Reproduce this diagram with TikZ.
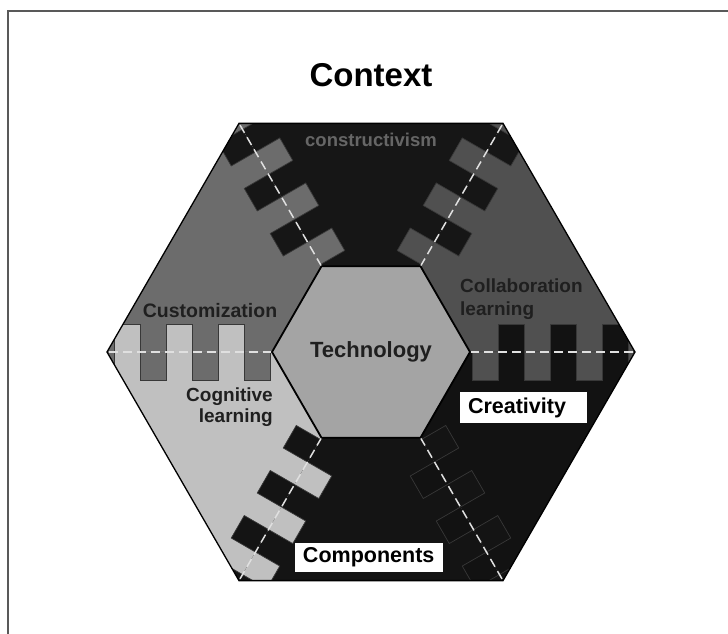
\documentclass[tikz,border=0pt]{standalone}
\usepackage{fontspec}
\setmainfont{Liberation Sans}
\definecolor{topfill}{HTML}{161616}
\definecolor{ulfill}{HTML}{6C6C6C}
\definecolor{urfill}{HTML}{505050}
\definecolor{lrfill}{HTML}{121212}
\definecolor{botfill}{HTML}{141414}
\definecolor{llfill}{HTML}{C0C0C0}
\definecolor{techfill}{HTML}{A4A4A4}
\begin{document}
\begin{tikzpicture}[
        x=1pt, y=1pt,
        font=\bfseries,
        frame/.style={draw=black!65, line width=1.6pt},
        tabedge/.style={draw=black!78, line width=0.7pt},
        seam/.style={draw=white!88!black, line width=1.5pt, dash pattern=on 9pt off 5pt},
        sectortext/.style={text=black!88, inner sep=0pt},
        tagbox/.style={fill=white, text=black, inner xsep=8pt, inner ysep=0pt, align=left}
    ]
    \useasboundingbox (-371,-282) rectangle (357,352);
    % page frame
    \draw[frame] (-363,-282) -- (-363,341) -- (357,341);
    % corners of the two hexagons
    \foreach \k in {0,...,5} {
        \coordinate (o\k) at (\k*60:264);
        \coordinate (i\k) at (\k*60:99);
    }
    % sectors
    \fill[urfill]  (i0) -- (o0) -- (o1) -- (i1) -- cycle;
    \fill[topfill] (i1) -- (o1) -- (o2) -- (i2) -- cycle;
    \fill[ulfill]  (i2) -- (o2) -- (o3) -- (i3) -- cycle;
    \fill[llfill]  (i3) -- (o3) -- (o4) -- (i4) -- cycle;
    \fill[botfill] (i4) -- (o4) -- (o5) -- (i5) -- cycle;
    \fill[lrfill]  (i5) -- (o5) -- (o0) -- (i0) -- cycle;
    % interlocking tabs along the six seams
    \begin{scope}
        \clip (o0) -- (o1) -- (o2) -- (o3) -- (o4) -- (o5) -- cycle;
        \foreach \ang/\male/\female/\sgn in {0/urfill/lrfill/-1, 60/urfill/topfill/1,
                120/ulfill/topfill/-1, 180/ulfill/llfill/1,
                240/botfill/llfill/-1, 300/botfill/lrfill/1} {
            \begin{scope}[rotate=\ang]
                \foreach \j in {0,...,6} {
                    \pgfmathsetmacro\rA{101+26*\j}
                    \pgfmathsetmacro\rB{\rA+26}
                    \ifodd\j
                        \pgfmathsetmacro\dep{-28*\sgn}
                        \fill[\female] (\rA,0) rectangle (\rB,\dep);
                    \else
                        \pgfmathsetmacro\dep{28*\sgn}
                        \fill[\male] (\rA,0) rectangle (\rB,\dep);
                    \fi
                    \draw[tabedge] (\rA,0) -- (\rA,\dep) -- (\rB,\dep) -- (\rB,0);
                }
            \end{scope}
        }
        \foreach \k in {0,...,5}
            \draw[seam] (i\k) -- (o\k);
    \end{scope}
    % outlines
    \draw[black, line width=1.3pt] (o0) -- (o1) -- (o2) -- (o3) -- (o4) -- (o5) -- cycle;
    \filldraw[fill=techfill, draw=black, line width=1.8pt]
        (i0) -- (i1) -- (i2) -- (i3) -- (i4) -- (i5) -- cycle;
    % texts
    \node (title) at (0,277) {\fontsize{33}{36}\selectfont Context};
    \node[text=black!60, font=\bfseries\fontsize{18.5}{20}\selectfont] (constructivism) at (0,212) {constructivism};
    \node[sectortext, font=\bfseries\fontsize{19.5}{21}\selectfont] (customization) at (-161,41) {Customization};
    \node[sectortext, anchor=west, align=left, font=\bfseries\fontsize{19}{23}\selectfont] (collaboration) at (89,53) {Collaboration\\learning};
    \node[sectortext, font=\bfseries\fontsize{22}{24}\selectfont] (technology) at (0,0) {Technology};
    \node[sectortext, anchor=east, align=right, font=\bfseries\fontsize{19}{21}\selectfont] (cognitive) at (-98,-55) {Cognitive\\learning};
    \node[tagbox, text width=111pt, minimum height=31pt, font=\bfseries\fontsize{21.5}{23}\selectfont] (creativity) at (152.5,-55.5) {Creativity};
    \node[tagbox, text width=132pt, minimum height=29pt, font=\bfseries\fontsize{21.5}{23}\selectfont] (components) at (-2,-205.5) {Components};
\end{tikzpicture}
\end{document}
